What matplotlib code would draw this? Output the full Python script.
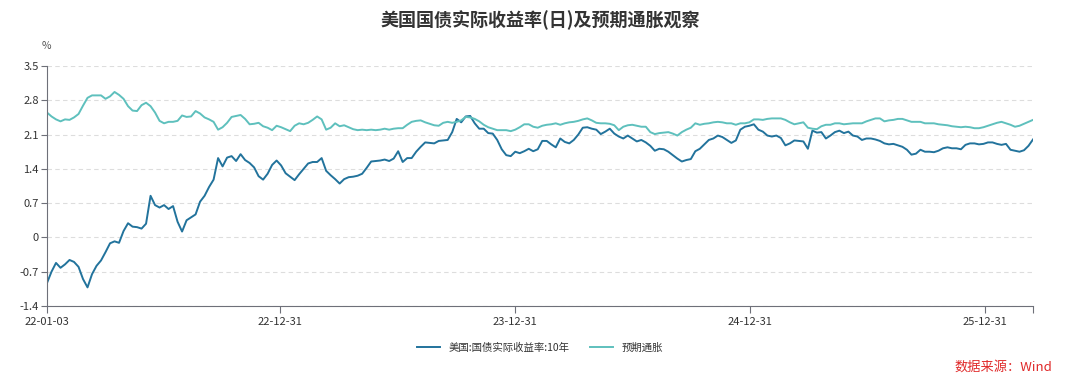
import matplotlib
matplotlib.use("Agg")
import matplotlib.pyplot as plt
import pandas as pd

plt.rcParams['font.family'] = ['Noto Sans CJK SC', 'DejaVu Sans']

### DATA (weekly readings from the chart) ###
start_date = "2022-01-03"

real_yield_10y = [
    -0.93, -0.70, -0.52, -0.62, -0.55, -0.46, -0.50, -0.60, -0.85, -1.02,
    -0.75, -0.58, -0.47, -0.30, -0.12, -0.08, -0.11, 0.13, 0.29, 0.22,
    0.21, 0.18, 0.28, 0.85, 0.66, 0.61, 0.66, 0.58, 0.64, 0.32,
    0.12, 0.35, 0.41, 0.47, 0.73, 0.85, 1.03, 1.18, 1.62, 1.45,
    1.63, 1.66, 1.56, 1.70, 1.58, 1.52, 1.43, 1.25, 1.18, 1.30,
    1.48, 1.57, 1.47, 1.31, 1.24, 1.17, 1.29, 1.40, 1.51, 1.54,
    1.54, 1.62, 1.36, 1.27, 1.19, 1.10, 1.19, 1.23, 1.24, 1.26,
    1.30, 1.42, 1.55, 1.56, 1.57, 1.59, 1.56, 1.61, 1.76, 1.54,
    1.62, 1.62, 1.75, 1.85, 1.94, 1.93, 1.92, 1.97, 1.98, 1.99,
    2.15, 2.42, 2.35, 2.47, 2.48, 2.33, 2.22, 2.22, 2.13, 2.12,
    1.99, 1.80, 1.68, 1.66, 1.75, 1.72, 1.76, 1.81, 1.76, 1.80,
    1.97, 1.97, 1.90, 1.84, 2.02, 1.95, 1.92, 1.99, 2.10, 2.24,
    2.25, 2.22, 2.20, 2.11, 2.16, 2.22, 2.12, 2.06, 2.02, 2.08,
    2.02, 1.96, 1.99, 1.94, 1.87, 1.77, 1.81, 1.80, 1.75, 1.68,
    1.61, 1.55, 1.58, 1.60, 1.76, 1.81, 1.90, 1.99, 2.02, 2.08,
    2.05, 1.99, 1.93, 1.98, 2.20, 2.26, 2.28, 2.31, 2.20, 2.16,
    2.08, 2.06, 2.08, 2.03, 1.88, 1.92, 1.98, 1.97, 1.96, 1.81,
    2.18, 2.14, 2.15, 2.02, 2.08, 2.15, 2.18, 2.13, 2.16, 2.08,
    2.06, 1.99, 2.02, 2.02, 2.00, 1.97, 1.92, 1.90, 1.91, 1.88,
    1.85, 1.79, 1.69, 1.71, 1.79, 1.75, 1.75, 1.74, 1.77, 1.82,
    1.84, 1.82, 1.82, 1.80, 1.89, 1.92, 1.92, 1.90, 1.91, 1.94,
    1.94, 1.91, 1.89, 1.91, 1.79, 1.77, 1.75, 1.78, 1.87, 2.00,
]

expected_inflation = [
    2.55, 2.47, 2.41, 2.37, 2.41, 2.40, 2.45, 2.52, 2.69, 2.85,
    2.90, 2.90, 2.90, 2.83, 2.88, 2.97, 2.91, 2.83, 2.68, 2.59,
    2.58, 2.70, 2.75, 2.68, 2.55, 2.38, 2.33, 2.36, 2.36, 2.38,
    2.49, 2.46, 2.47, 2.58, 2.53, 2.45, 2.41, 2.36, 2.20, 2.25,
    2.34, 2.46, 2.48, 2.50, 2.42, 2.31, 2.32, 2.34, 2.27, 2.24,
    2.19, 2.28, 2.25, 2.21, 2.17, 2.28, 2.33, 2.31, 2.34, 2.40,
    2.47, 2.41, 2.20, 2.24, 2.33, 2.27, 2.29, 2.25, 2.21, 2.19,
    2.20, 2.19, 2.20, 2.19, 2.20, 2.22, 2.20, 2.22, 2.23, 2.23,
    2.30, 2.36, 2.38, 2.39, 2.35, 2.32, 2.29, 2.28, 2.34, 2.36,
    2.34, 2.36, 2.39, 2.46, 2.45, 2.42, 2.37, 2.30, 2.25, 2.22,
    2.19, 2.19, 2.19, 2.17, 2.20, 2.25, 2.31, 2.31, 2.26, 2.24,
    2.28, 2.30, 2.31, 2.33, 2.30, 2.33, 2.35, 2.36, 2.38, 2.41,
    2.43, 2.39, 2.34, 2.33, 2.33, 2.32, 2.29, 2.19, 2.26, 2.29,
    2.30, 2.28, 2.26, 2.26, 2.15, 2.11, 2.13, 2.14, 2.15, 2.12,
    2.08, 2.15, 2.20, 2.24, 2.33, 2.30, 2.32, 2.33, 2.35, 2.36,
    2.35, 2.33, 2.33, 2.30, 2.33, 2.33, 2.35, 2.41, 2.41, 2.40,
    2.42, 2.43, 2.43, 2.43, 2.40, 2.35, 2.31, 2.33, 2.35, 2.24,
    2.22, 2.21, 2.27, 2.30, 2.30, 2.33, 2.33, 2.31, 2.32, 2.33,
    2.33, 2.33, 2.37, 2.40, 2.43, 2.43, 2.37, 2.39, 2.40, 2.42,
    2.42, 2.39, 2.36, 2.36, 2.36, 2.33, 2.33, 2.33, 2.31, 2.30,
    2.29, 2.27, 2.26, 2.25, 2.26, 2.25, 2.23, 2.23, 2.25, 2.28,
    2.31, 2.34, 2.36, 2.33, 2.30, 2.26, 2.28, 2.32, 2.36, 2.40,
]

tick_dates = ["2022-01-03", "2022-12-31", "2023-12-31", "2024-12-31", "2025-12-31"]
tick_labels = ["22-01-03", "22-12-31", "23-12-31", "24-12-31", "25-12-31"]
y_ticks = [-1.4, -0.7, 0, 0.7, 1.4, 2.1, 2.8, 3.5]
y_labels = ["-1.4", "-0.7", "0", "0.7", "1.4", "2.1", "2.8", "3.5"]

dates = pd.date_range(start_date, periods=len(real_yield_10y), freq="7D")

### PLOT ###
fig = plt.figure(figsize=(10.8, 3.86), dpi=100)
ax = fig.add_axes([47 / 1080, 1 - 306 / 386, 986 / 1080, 240 / 386])

ax.plot(dates, real_yield_10y, color="#22739c", lw=1.4, label="美国:国债实际收益率:10年")
ax.plot(dates, expected_inflation, color="#5ec0bd", lw=1.4, label="预期通胀")

ax.set_xlim(dates[0], dates[-1])
ax.set_ylim(-1.4, 3.5)
ax.set_yticks(y_ticks)
ax.set_yticklabels(y_labels)
xt = list(pd.to_datetime(tick_dates)) + [dates[-1]]
ax.set_xticks(xt)
ax.set_xticklabels(tick_labels + [""])

ax.grid(axis="y", color="#dddddd", ls=(0, (4, 3)), lw=0.8)
ax.set_axisbelow(True)
for s in ["top", "right"]:
    ax.spines[s].set_visible(False)
ax.spines["left"].set_color("#6e7079")
ax.spines["bottom"].set_color("#6e7079")
ax.tick_params(axis="y", colors="#6e7079", labelcolor="#333333", labelsize=8, length=4, pad=2)
ax.tick_params(axis="x", colors="#6e7079", labelcolor="#333333", labelsize=8, length=5, pad=3)

fig.text(46 / 1080, 1 - 46 / 386, "%", fontsize=7.5, color="#555555", ha="center", va="center")
fig.text(0.5, 1 - 20 / 386, "美国国债实际收益率(日)及预期通胀观察", fontsize=13,
         fontweight="bold", color="#333333", ha="center", va="center")

fig.legend(loc="center", bbox_to_anchor=(0.5, 1 - 348 / 386), ncol=2, frameon=False,
           fontsize=7.5, handlelength=2.2, columnspacing=2.0, labelcolor="#333333")
fig.text(1052 / 1080, 1 - 367 / 386, "数据来源：Wind", fontsize=9.5, color="#e02a2a",
         ha="right", va="center")

fig.savefig("out.png", dpi=100)
